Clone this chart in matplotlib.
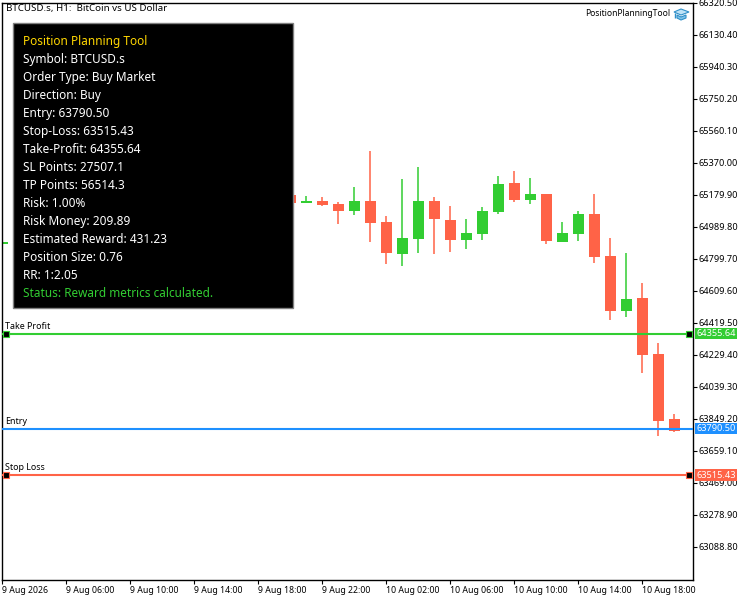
import numpy as np
import matplotlib
matplotlib.use('Agg')
import matplotlib.pyplot as plt
from matplotlib.patches import Polygon, Rectangle

# candle data, bars 1-17 sit behind the panel
bar_index = [0, 18, 19, 20, 21, 22, 23, 24, 25, 26, 27, 28, 29, 30, 31, 32, 33, 34, 35, 36, 37, 38, 39, 40, 41, 42]
opens = [64888, 65179, 65131, 65143, 65125, 65084, 65143, 65018, 64828, 64917, 65143, 65030, 64911,
         64947, 65078, 65250, 65149, 65185, 64899, 64947, 65066, 64816, 64490, 64567, 64234, 63848]
highs = [64905, 65190, 65173, 65167, 65137, 65226, 65440, 65054, 65274, 65345, 65167, 65113, 65036,
         65107, 65292, 65321, 65280, 65185, 65018, 65084, 65185, 64923, 64834, 64656, 64300, 63878]
lows = [64885, 65125, 65131, 65113, 65006, 65060, 64900, 64769, 64757, 64834, 64828, 64840, 64858,
        64911, 65066, 65137, 65125, 64888, 64899, 64905, 64775, 64436, 64454, 64121, 63747, 63771]
closes = [64900, 65131, 65143, 65119, 65084, 65143, 65012, 64834, 64923, 65143, 65036, 64911, 64953,
          65084, 65244, 65149, 65185, 64905, 64953, 65066, 64810, 64490, 64561, 64228, 63836, 63777]

price_ticks = [66320.50, 66130.40, 65940.30, 65750.20, 65560.10, 65370.00, 65179.90, 64989.80, 64799.70,
               64609.60, 64419.50, 64229.40, 64039.30, 63849.20, 63659.10, 63469.00, 63278.90, 63088.80]
time_ticks = [0, 4, 8, 12, 16, 20, 24, 28, 32, 36, 40]
time_labels = ['9 Aug 2026', '9 Aug 06:00', '9 Aug 10:00', '9 Aug 14:00', '9 Aug 18:00', '9 Aug 22:00',
               '10 Aug 02:00', '10 Aug 06:00', '10 Aug 10:00', '10 Aug 14:00', '10 Aug 18:00']

level_names = ['Take Profit', 'Entry', 'Stop Loss']
level_prices = [64355.64, 63790.50, 63515.43]
level_colors = ['#32CD32', '#1E90FF', '#FF6347']
level_handles = [True, False, True]

panel_lines = ['Position Planning Tool', 'Symbol: BTCUSD.s', 'Order Type: Buy Market', 'Direction: Buy',
               'Entry: 63790.50', 'Stop-Loss: 63515.43', 'Take-Profit: 64355.64', 'SL Points: 27507.1',
               'TP Points: 56514.3', 'Risk: 1.00%', 'Risk Money: 209.89', 'Estimated Reward: 431.23',
               'Position Size: 0.76', 'RR: 1:2.05', 'Status: Reward metrics calculated.']

UP = '#32CD32'
DOWN = '#FF6347'
W, H = 750, 600
plt.rcParams['font.family'] = ['Noto Sans', 'DejaVu Sans']


def px_text(fig, x, y, s, **kw):
    # place text by screen pixels, y going down
    return fig.text(x / W, 1 - y / H, s, **kw)


fig = plt.figure(figsize=(W / 100, H / 100), dpi=100)
ax = fig.add_axes([2.0 / W, 1 - 579.5 / H, 690.5 / W, 577 / H])
ax.set_xlim(-0.02, 43.14)
ax.set_ylim(66337 - 5.94 * 579.5, 66337 - 5.94 * 2.5)

bar_index = np.array(bar_index)
opens = np.array(opens)
closes = np.array(closes)
colors = [UP if c >= o else DOWN for o, c in zip(opens, closes)]
ax.vlines(bar_index, lows, highs, colors=colors, linewidth=1.1, zorder=2)
ax.bar(bar_index, closes - opens, bottom=opens, width=0.6875, color=colors, linewidth=0, zorder=2)

for name, price, col, handle in zip(level_names, level_prices, level_colors, level_handles):
    ax.axhline(price, color=col, linewidth=1.5, zorder=3)
    if handle:
        ax.plot([0.24, 42.9], [price, price], ls='none', marker='s', ms=5, mfc='black', mec=col, mew=0.8,
                clip_on=False, zorder=4)
    ax.annotate(name, (0, price), xytext=(3, 3), textcoords='offset pixels', fontsize=6.4, color='black',
                ha='left', va='bottom', zorder=4)
    ax.annotate('%.2f' % price, (1, price), xycoords=('axes fraction', 'data'), xytext=(4, 0),
                textcoords='offset pixels', fontsize=6.6, color='white', ha='left', va='center', zorder=5,
                bbox=dict(boxstyle='square,pad=0.14', fc=col, ec='none'), annotation_clip=False)

ax.yaxis.tick_right()
ax.set_yticks(price_ticks)
ax.set_yticklabels(['%.2f' % p for p in price_ticks])
ax.tick_params(axis='y', length=3, width=0.8, pad=1, labelsize=6.6)
ax.set_xticks(time_ticks)
ax.set_xticklabels(time_labels, ha='left')
ax.tick_params(axis='x', length=3, width=0.8, pad=1.5, labelsize=6.3)
for spine in ax.spines.values():
    spine.set_linewidth(1.0)

# info panel
ax.add_patch(Rectangle((13.5 / W, 1 - 307.5 / H), 279 / W, 284 / H, transform=fig.transFigure, fc='black',
                       ec='#808080', lw=1, zorder=6, clip_on=False))
for i, line in enumerate(panel_lines):
    col = 'white'
    if i == 0:
        col = '#FFD700'
    elif i == len(panel_lines) - 1:
        col = '#32CD32'
    t = px_text(fig, 23, 41.5 + 18 * i, line, color=col, fontsize=8.5, va='center', ha='left')
    t.set_zorder(7)

px_text(fig, 6, 9, 'BTCUSD.s, H1:  BitCoin vs US Dollar', fontsize=7.0, va='center', ha='left')
px_text(fig, 585, 14, 'PositionPlanningTool', fontsize=6.1, va='center', ha='left')

# little graduation cap next to the tool name
cap = '#2F8FC8'
for pts, fc in [([(674, 12), (681, 9), (689, 12), (681, 15)], '#BFE3F7'),
                ([(677, 15), (681, 17), (686, 15), (686, 18), (681, 20), (677, 18)], '#7FC4EA')]:
    fig.add_artist(Polygon([(x / W, 1 - y / H) for x, y in pts], closed=True, transform=fig.transFigure,
                           fc=fc, ec=cap, lw=0.8))
fig.add_artist(Polygon([(675 / W, 1 - 13 / H), (675 / W, 1 - 18 / H)], closed=False,
                       transform=fig.transFigure, fc='none', ec=cap, lw=1))

fig.savefig('out.png', dpi=100)
